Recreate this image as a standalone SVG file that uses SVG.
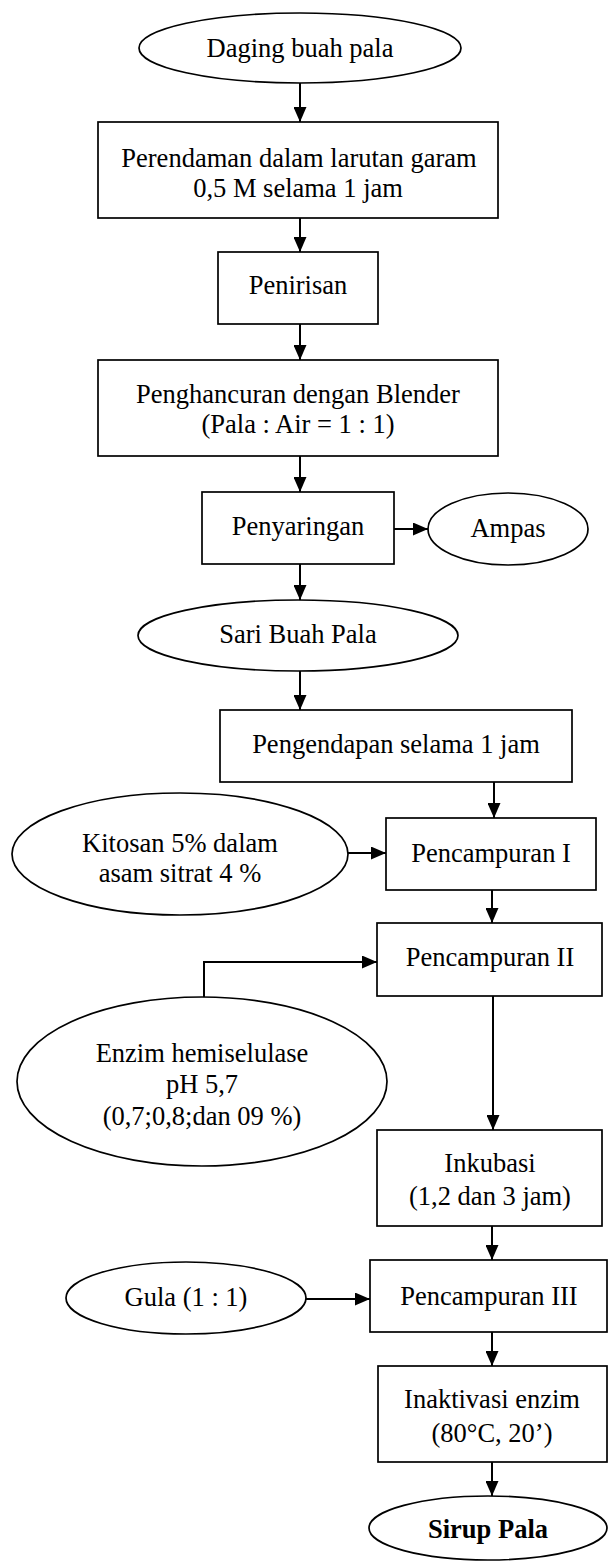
<svg xmlns="http://www.w3.org/2000/svg" width="608" height="1562" viewBox="0 0 608 1562">
<defs>
<style>
.s{fill:#fff;stroke:#000;stroke-width:1.7}
.t{font-family:"Liberation Serif","Times New Roman",serif;font-size:26.5px;fill:#000;text-anchor:middle}
.b{font-weight:bold}
.c{fill:none;stroke:#000;stroke-width:2}
</style>
<marker id="ah" markerUnits="userSpaceOnUse" markerWidth="15" markerHeight="13" refX="15" refY="6.5" orient="auto">
<path d="M0,0 L15,6.5 L0,13 z" fill="#000"/>
</marker>
</defs>
<rect width="608" height="1562" fill="#fff"/>
<g id="connectors">
<path class="c" marker-end="url(#ah)" d="M300,83 V122"/>
<path class="c" marker-end="url(#ah)" d="M300,218 V252"/>
<path class="c" marker-end="url(#ah)" d="M300,324 V360"/>
<path class="c" marker-end="url(#ah)" d="M300,456 V492"/>
<path class="c" marker-end="url(#ah)" d="M394,529 H428"/>
<path class="c" marker-end="url(#ah)" d="M300,564 V600"/>
<path class="c" marker-end="url(#ah)" d="M300,671 V710"/>
<path class="c" marker-end="url(#ah)" d="M494,782 V818"/>
<path class="c" marker-end="url(#ah)" d="M348,853 H386"/>
<path class="c" marker-end="url(#ah)" d="M492,890 V923"/>
<path class="c" marker-end="url(#ah)" d="M204,997 V962 H377"/>
<path class="c" marker-end="url(#ah)" d="M493,996 V1130"/>
<path class="c" marker-end="url(#ah)" d="M492,1226 V1260"/>
<path class="c" marker-end="url(#ah)" d="M306,1299 H370"/>
<path class="c" marker-end="url(#ah)" d="M492,1332 V1366"/>
<path class="c" marker-end="url(#ah)" d="M492,1462 V1496"/>
</g>
<g id="daging">
<ellipse class="s" cx="300" cy="48" rx="161" ry="35"/>
<text class="t" x="300" y="57">Daging buah pala</text>
</g>
<g id="perendaman">
<rect class="s" x="98" y="122" width="400" height="96"/>
<text class="t" x="299" y="167">Perendaman dalam larutan garam</text>
<text class="t" x="298" y="197">0,5 M selama 1 jam</text>
</g>
<g id="penirisan">
<rect class="s" x="218" y="252" width="160" height="72"/>
<text class="t" x="298" y="294">Penirisan</text>
</g>
<g id="penghancuran">
<rect class="s" x="98" y="360" width="400" height="96"/>
<text class="t" x="298" y="403">Penghancuran dengan Blender</text>
<text class="t" x="298" y="433">(Pala : Air = 1 : 1)</text>
</g>
<g id="penyaringan">
<rect class="s" x="202" y="492" width="192" height="72"/>
<text class="t" x="298" y="535">Penyaringan</text>
</g>
<g id="ampas">
<ellipse class="s" cx="508" cy="529" rx="80" ry="36"/>
<text class="t" x="508" y="537">Ampas</text>
</g>
<g id="sari">
<ellipse class="s" cx="298" cy="635.5" rx="160" ry="35.5"/>
<text class="t" x="298" y="643">Sari Buah Pala</text>
</g>
<g id="pengendapan">
<rect class="s" x="220" y="710" width="352" height="72"/>
<text class="t" x="396" y="753">Pengendapan selama 1 jam</text>
</g>
<g id="kitosan">
<ellipse class="s" cx="180" cy="854" rx="168" ry="61"/>
<text class="t" x="180" y="852">Kitosan 5% dalam</text>
<text class="t" x="180" y="882">asam sitrat 4 %</text>
</g>
<g id="pencampuran1">
<rect class="s" x="386" y="818" width="210" height="72"/>
<text class="t" x="491" y="862">Pencampuran I</text>
</g>
<g id="pencampuran2">
<rect class="s" x="377" y="923" width="225" height="73"/>
<text class="t" x="490" y="966">Pencampuran II</text>
</g>
<g id="enzim">
<ellipse class="s" cx="202" cy="1081.5" rx="185" ry="84.5"/>
<text class="t" x="202" y="1062">Enzim hemiselulase</text>
<text class="t" x="202" y="1093">pH 5,7</text>
<text class="t" x="202" y="1125">(0,7;0,8;dan 09 %)</text>
</g>
<g id="inkubasi">
<rect class="s" x="377" y="1130" width="225" height="96"/>
<text class="t" x="490" y="1172">Inkubasi</text>
<text class="t" x="490" y="1205">(1,2 dan 3 jam)</text>
</g>
<g id="gula">
<ellipse class="s" cx="186" cy="1298" rx="120" ry="36"/>
<text class="t" x="186" y="1306">Gula (1 : 1)</text>
</g>
<g id="pencampuran3">
<rect class="s" x="370" y="1260" width="237" height="72"/>
<text class="t" x="489" y="1305">Pencampuran III</text>
</g>
<g id="inaktivasi">
<rect class="s" x="378" y="1366" width="229" height="96"/>
<text class="t" x="492" y="1408">Inaktivasi enzim</text>
<text class="t" x="492" y="1442">(80°C, 20’)</text>
</g>
<g id="sirup">
<ellipse class="s" cx="488" cy="1528" rx="119" ry="32"/>
<text class="t b" x="488" y="1538">Sirup Pala</text>
</g>
</svg>
